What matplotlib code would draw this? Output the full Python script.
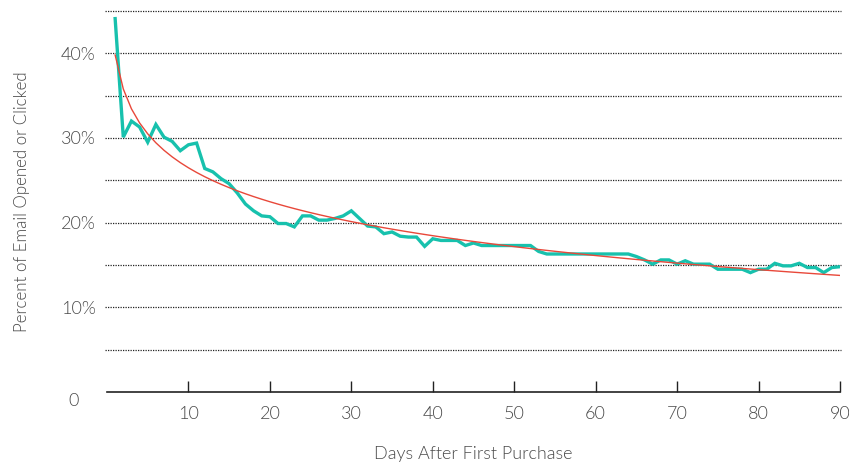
import numpy as np
import matplotlib
matplotlib.use('Agg')
import matplotlib.pyplot as plt
import matplotlib.transforms as mtransforms

plt.rcParams['font.family'] = ['Lato', 'DejaVu Sans']

# Days after first purchase and share of emails opened or clicked (%)
days = np.arange(1, 91)
open_rate = [
    44.1, 30.1, 32.0, 31.3, 29.5, 31.6, 30.1, 29.6, 28.5, 29.2,
    29.4, 26.4, 26.0, 25.2, 24.6, 23.5, 22.2, 21.4, 20.8, 20.7,
    19.9, 19.9, 19.5, 20.8, 20.8, 20.3, 20.3, 20.5, 20.8, 21.4,
    20.5, 19.6, 19.5, 18.7, 18.9, 18.4, 18.3, 18.3, 17.2, 18.1,
    17.9, 17.9, 17.9, 17.3, 17.6, 17.3, 17.3, 17.3, 17.3, 17.3,
    17.3, 17.3, 16.6, 16.3, 16.3, 16.3, 16.3, 16.3, 16.3, 16.3,
    16.3, 16.3, 16.3, 16.3, 16.0, 15.6, 15.1, 15.6, 15.6, 15.1,
    15.5, 15.1, 15.1, 15.1, 14.5, 14.5, 14.5, 14.5, 14.1, 14.5,
    14.5, 15.2, 14.9, 14.9, 15.2, 14.7, 14.7, 14.1, 14.7, 14.8,
]

x_ticks = [10, 20, 30, 40, 50, 60, 70, 80, 90]
y_grid = [5, 10, 15, 20, 25, 30, 35, 40, 45]
y_labels = {10: '10%', 20: '20%', 30: '30%', 40: '40%'}

# logarithmic trend line fitted to the series
b, a = np.polyfit(np.log(days), open_rate, 1)
trend = a + b * np.log(days)

text_color = '#4a4a4a'
font = dict(family=['Lato', 'DejaVu Sans'], weight=300, color=text_color)

fig = plt.figure(figsize=(8.49, 4.62), dpi=100)
ax = fig.add_axes([107 / 849, 1 - 392 / 462, 733 / 849, 381 / 462])

ax.plot(days, open_rate, color='#17c1ad', linewidth=2.4, zorder=3,
        solid_joinstyle='miter')
ax.plot(days, trend, color='#e8483a', linewidth=1.0, zorder=4)

ax.set_xlim(0, 90)
ax.set_ylim(0, 45)

for v in y_grid:
    ax.axhline(v, color='#222222', linestyle=(0, (1, 1)), linewidth=0.9,
               zorder=1, clip_on=False, xmin=-0.003, xmax=1.001)

ax.set_yticks(y_grid)
ax.set_yticklabels([y_labels.get(v, '') for v in y_grid], fontsize=13, **font)
ax.tick_params(axis='y', length=0, pad=8)

ax.set_xticks(x_ticks)
ax.set_xticklabels([str(v) for v in x_ticks], fontsize=13, **font)
ax.tick_params(axis='x', direction='in', length=8, width=1, color='#222222',
               pad=10)

trans = mtransforms.blended_transform_factory(ax.transAxes, ax.transData)
ax.text(-0.046, -1.1, '0', transform=trans, ha='center', va='center',
        fontsize=13, **font)

for side in ['top', 'right', 'left']:
    ax.spines[side].set_visible(False)
ax.spines['bottom'].set_color('#222222')
ax.spines['bottom'].set_linewidth(1.2)

ax.set_xlabel('Days After First Purchase', fontsize=13, labelpad=17, **font)
ax.set_ylabel('Percent of Email Opened or Clicked', fontsize=12.2,
              labelpad=22, **font)

fig.savefig('out.png', dpi=100)
